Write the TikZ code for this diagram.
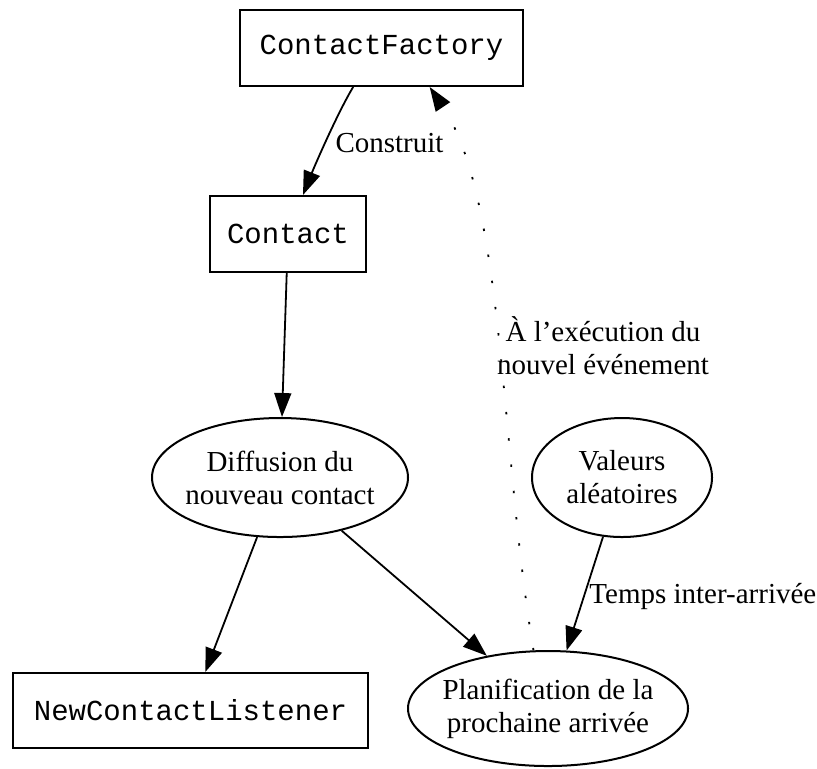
\documentclass[tikz,border=0pt]{standalone}
\usepackage{fontspec}
\setmainfont{Liberation Serif}
\setmonofont{Liberation Mono}
\usetikzlibrary{arrows.meta,shapes.geometric}

\begin{document}
\begin{tikzpicture}[x=0.5pt, y=-0.5pt, >={Triangle[length=12pt,width=8.5pt]},
  every node/.style={font=\fontsize{14.5}{16.5}\selectfont},
  classbox/.style={draw, line width=1pt, inner sep=0pt, font=\fontsize{14.5}{16.5}\selectfont\ttfamily},
  actell/.style={draw, ellipse, line width=1pt, inner xsep=-4pt, inner ysep=0pt, align=center},
  flow/.style={->, line width=0.9pt}]
  \useasboundingbox (0,0) rectangle (817,768);
  \fill[white] (0,0) rectangle (817,768);

  % --- Classes ---
  \node[classbox, minimum width=141.5pt, minimum height=38pt] (factory) at (381.5,48) {ContactFactory};
  \node[classbox, minimum width=78pt, minimum height=38pt] (contact) at (288,234) {Contact};
  \node[classbox, minimum width=177.5pt, minimum height=37.5pt] (listener) at (190.5,710.5) {NewContactListener};

  % --- Etapes ---
  \node[actell, minimum width=128pt, minimum height=59.5pt] (diffusion) at (280,477.5) {Diffusion du\\nouveau contact};
  \node[actell, minimum width=90pt, minimum height=59.5pt] (valeurs) at (622,477.5) {Valeurs\\aléatoires};
  \node[actell, minimum width=140pt, minimum height=57.5pt] (planif) at (548,708.5) {Planification de la\\prochaine arrivée};

  % --- Fleches ---
  \draw[flow] (factory.234) .. controls (338,112) and (315,165) .. (contact.69);
  \draw[flow] (contact) -- (diffusion);
  \draw[flow] (diffusion) -- (listener);
  \draw[flow] (diffusion) -- (planif);
  \draw[flow] (valeurs) -- (planif);
  % retour vers la fabrique
  \draw[flow, dash pattern=on 1.2pt off 12pt] (planif.104) .. controls (500,450) and (505,200) .. (factory.-39);

  % --- Etiquettes ---
  \node[anchor=base] (construit) at (389.5,152) {Construit};
  \node[align=center] (execution) at (603,346) {À l'exécution du\\nouvel événement};
  \node[anchor=base west, inner sep=0pt] (interarr) at (589,603) {Temps inter-arrivée};
\end{tikzpicture}
\end{document}
